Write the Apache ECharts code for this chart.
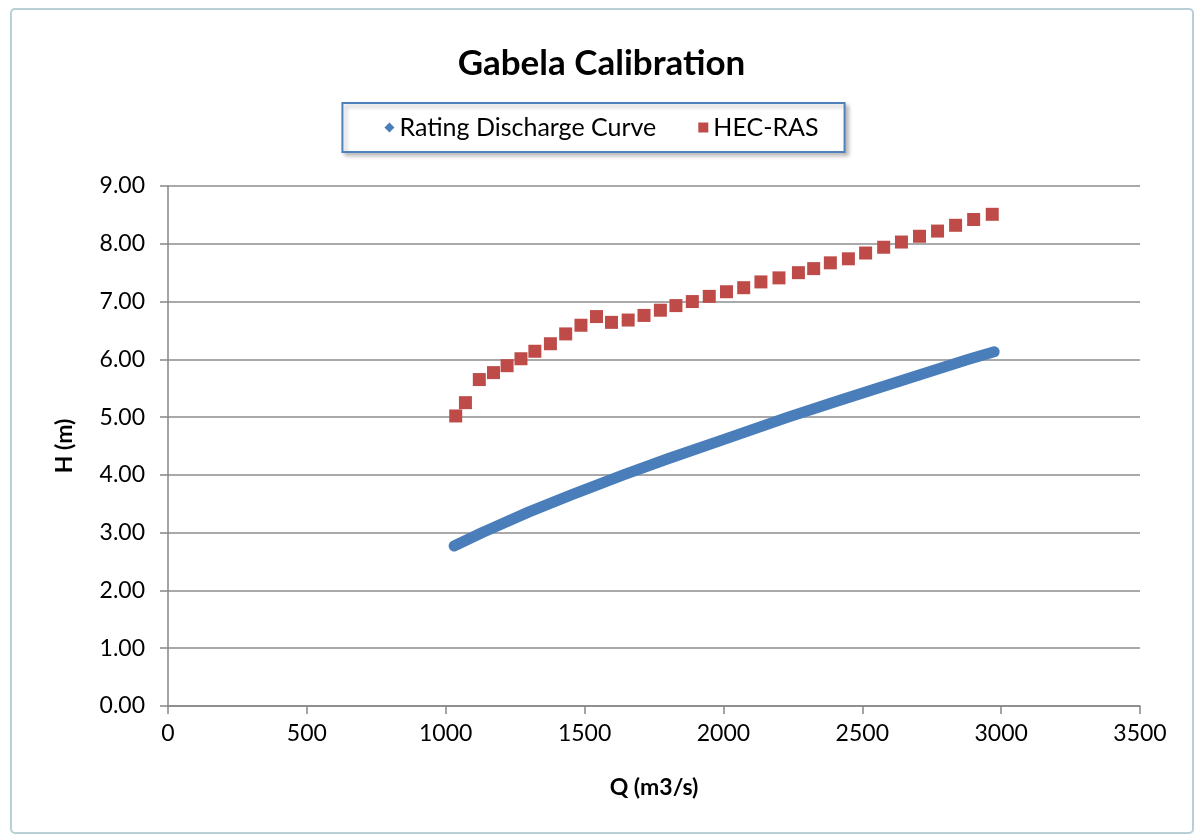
<!DOCTYPE html>
<html>
<head>
	<meta charset="UTF-8">
	<title>Gabela Calibration</title>
	<style>
		html, body { margin: 0; padding: 0; background: #fff; }
		#container { width: 1203px; height: 837px; }
	</style>
</head>
<body>
	<div id="container"></div>
	<script src="https://cdn.jsdelivr.net/npm/echarts@6/dist/echarts.min.js"></script>
	<script>
		// rating curve, read along the blue band (Q m3/s, H m)
		var ratingQ = [1030, 1130, 1300, 1450, 1640, 1800, 2000, 2233, 2400, 2600, 2750, 2883, 2975];
		var ratingH = [2.77, 3.00, 3.36, 3.65, 4.00, 4.28, 4.61, 5.00, 5.26, 5.57, 5.80, 6.00, 6.13];

		// HEC-RAS points
		var hecQ = [1036, 1071, 1121, 1172, 1221, 1271, 1321, 1377, 1432, 1487, 1543, 1597, 1657, 1714, 1773, 1829, 1888, 1949, 2011,
			2073, 2135, 2200, 2270, 2325, 2385, 2450, 2512, 2577, 2641, 2706, 2771, 2836, 2901, 2968];
		var hecH = [5.02, 5.25, 5.65, 5.77, 5.89, 6.01, 6.14, 6.27, 6.44, 6.59, 6.74, 6.64, 6.68, 6.76, 6.85, 6.93, 7.00, 7.09, 7.17,
			7.24, 7.34, 7.41, 7.50, 7.57, 7.67, 7.74, 7.84, 7.94, 8.03, 8.13, 8.22, 8.32, 8.42, 8.51];

		var xTicks = [0, 500, 1000, 1500, 2000, 2500, 3000, 3500];
		var yTicks = [0, 1, 2, 3, 4, 5, 6, 7, 8, 9];

		function pairs(xs, ys) {
			var out = [];
			for (var i = 0; i < xs.length; i++) out.push([xs[i], ys[i]]);
			return out;
		}

		var dom = document.getElementById("container");
		var myChart = echarts.init(dom);
		var font = 'Lato, "Open Sans", sans-serif';

		var option = {
			animation: false,
			textStyle: { fontFamily: font },
			graphic: [{
				type: 'rect',
				shape: { x: 11, y: 9, width: 1182, height: 824, r: 4 },
				style: { fill: 'none', stroke: '#b9cfd6', lineWidth: 2 },
				silent: true
			}],
			title: {
				text: 'Gabela Calibration',
				left: 'center',
				top: 41,
				textStyle: { fontSize: 35, fontWeight: 'bold', color: '#000', fontFamily: font }
			},
			legend: {
				top: 103,
				left: 'center',
				itemGap: 42,
				itemWidth: 10,
				itemHeight: 10,
				padding: [12, 26, 12, 42],
				borderColor: '#4f81bd',
				borderWidth: 2,
				borderRadius: 0,
				backgroundColor: '#fff',
				shadowColor: 'rgba(0,0,0,0.25)',
				shadowBlur: 4,
				shadowOffsetX: 3,
				shadowOffsetY: 3,
				textStyle: { fontSize: 25, color: '#000', fontFamily: font },
				data: [
					{ name: 'Rating Discharge Curve', icon: 'diamond' },
					{ name: 'HEC-RAS', icon: 'rect' }
				]
			},
			grid: {
				left: 168,
				right: 63,
				top: 186,
				bottom: 131,
				containLabel: false
			},
			xAxis: {
				type: 'value',
				min: xTicks[0],
				max: xTicks[xTicks.length - 1],
				interval: 500,
				name: 'Q (m3/s)',
				nameLocation: 'middle',
				nameGap: 70,
				nameTextStyle: { fontSize: 23, fontWeight: 'bold', color: '#000' },
				axisLine: { show: true, lineStyle: { color: '#868686', width: 1.5 } },
				axisTick: { show: true, length: 8, lineStyle: { color: '#868686', width: 1.5 } },
				axisLabel: {
					fontSize: 23, color: '#000', margin: 16,
					formatter: function (v) { return String(v); }
				},
				splitLine: { show: false }
			},
			yAxis: {
				type: 'value',
				min: yTicks[0],
				max: yTicks[yTicks.length - 1],
				interval: 1,
				name: 'H (m)',
				nameLocation: 'middle',
				nameGap: 92,
				nameRotate: 90,
				nameTextStyle: { fontSize: 23, fontWeight: 'bold', color: '#000' },
				axisLine: { show: true, lineStyle: { color: '#868686', width: 1.5 } },
				axisTick: { show: true, inside: false, length: 8, lineStyle: { color: '#868686', width: 1.5 } },
				axisLabel: {
					fontSize: 23, color: '#000', margin: 23,
					formatter: function (v) { return v.toFixed(2); }
				},
				splitLine: { show: true, lineStyle: { color: '#8c8c8c', width: 1.5 } }
			},
			series: [
				{
					name: 'Rating Discharge Curve',
					type: 'line',
					data: pairs(ratingQ, ratingH),
					smooth: false,
					symbol: 'none',
					itemStyle: { color: '#4a7ebb' },
					lineStyle: { color: '#4a7ebb', width: 11, cap: 'round', join: 'round' },
					z: 2
				},
				{
					name: 'HEC-RAS',
					type: 'scatter',
					data: pairs(hecQ, hecH),
					symbol: 'rect',
					symbolSize: 13,
					itemStyle: { color: '#be4b48', opacity: 1 },
					z: 3
				}
			]
		};

		if (option && typeof option === "object") {
			myChart.setOption(option, true);
		}
	</script>
</body>
</html>
